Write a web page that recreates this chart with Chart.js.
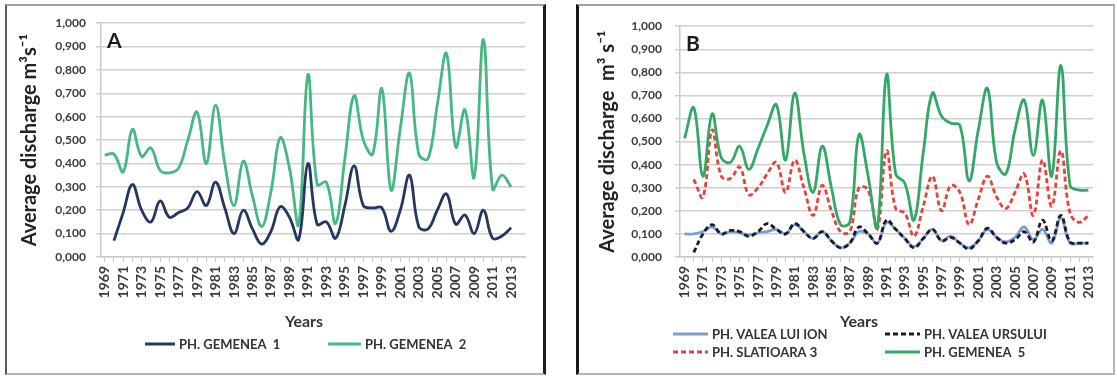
<!DOCTYPE html>
<html>
<head>
<meta charset="utf-8">
<script src="https://cdn.jsdelivr.net/npm/chart.js@4.4.1/dist/chart.umd.min.js"></script>
<style>
  html, body { margin: 0; padding: 0; background: #fff; width: 1117px; height: 376px; overflow: hidden; }
  .panel { position: absolute; box-sizing: border-box; background: #fff; }
  #panelA { left: 5px; top: 4px; width: 541px; height: 371px;
    border-left: 2px solid #5a5a5a; border-top: 2px solid #a0a0a0; border-right: 3px solid #1e1e1e; border-bottom: 2px solid #b4b4b4; }
  #panelB { left: 576px; top: 4px; width: 539px; height: 371px;
    border-left: 3px solid #161616; border-top: 2px solid #a0a0a0; border-right: 2px solid #b4b4b4; border-bottom: 2px solid #b4b4b4; }
  canvas { position: absolute; left: 0; top: 0; }
</style>
</head>
<body>
<div class="panel" id="panelA"><canvas id="chartA" width="536" height="367"></canvas></div>
<div class="panel" id="panelB"><canvas id="chartB" width="534" height="367"></canvas></div>
<script>
// Hydrological years
const years = [1969, 1970, 1971, 1972, 1973, 1974, 1975, 1976, 1977, 1978,
  1979, 1980, 1981, 1982, 1983, 1984, 1985, 1986, 1987, 1988,
  1989, 1990, 1991, 1992, 1993, 1994, 1995, 1996, 1997, 1998,
  1999, 2000, 2001, 2002, 2003, 2004, 2005, 2006, 2007, 2008,
  2009, 2010, 2011, 2012, 2013];

// Panel A – average discharge (m3/s)
const gemenea1 = [null, 0.07, 0.19, 0.31, 0.20, 0.15, 0.24, 0.17, 0.19, 0.21,
  0.28, 0.22, 0.32, 0.21, 0.10, 0.20, 0.12, 0.055, 0.11, 0.215,
  0.17, 0.075, 0.40, 0.14, 0.15, 0.08, 0.22, 0.39, 0.22, 0.21,
  0.21, 0.11, 0.20, 0.35, 0.13, 0.12, 0.20, 0.27, 0.14, 0.18,
  0.10, 0.20, 0.08, 0.09, 0.125];
const gemenea2 = [0.436, 0.44, 0.364, 0.546, 0.43, 0.467, 0.37, 0.36, 0.38, 0.50,
  0.62, 0.40, 0.65, 0.40, 0.22, 0.41, 0.26, 0.13, 0.28, 0.51,
  0.38, 0.14, 0.78, 0.31, 0.32, 0.143, 0.42, 0.69, 0.50, 0.44,
  0.72, 0.286, 0.55, 0.786, 0.44, 0.42, 0.65, 0.87, 0.47, 0.63,
  0.34, 0.93, 0.29, 0.35, 0.30];

// Panel B – average discharge (m3/s)
const valeaLuiIon = [0.10, 0.10, 0.11, 0.13, 0.10, 0.11, 0.105, 0.095, 0.105, 0.11,
  0.12, 0.10, 0.14, 0.11, 0.08, 0.11, 0.07, 0.04, 0.06, 0.11,
  0.10, 0.06, 0.15, 0.12, 0.08, 0.045, 0.08, 0.12, 0.07, 0.09,
  0.06, 0.04, 0.07, 0.12, 0.085, 0.065, 0.085, 0.13, 0.075, 0.12,
  0.06, 0.17, 0.06, 0.06, 0.06];
const valeaUrsului = [null, 0.02, 0.10, 0.14, 0.10, 0.115, 0.11, 0.09, 0.11, 0.145,
  0.12, 0.10, 0.145, 0.11, 0.08, 0.11, 0.07, 0.04, 0.06, 0.13,
  0.10, 0.06, 0.16, 0.12, 0.08, 0.04, 0.08, 0.12, 0.07, 0.085,
  0.06, 0.035, 0.07, 0.125, 0.085, 0.06, 0.075, 0.11, 0.065, 0.16,
  0.07, 0.18, 0.065, 0.06, 0.06];
const slatioara3 = [null, 0.336, 0.26, 0.55, 0.35, 0.34, 0.39, 0.27, 0.30, 0.36,
  0.41, 0.28, 0.42, 0.30, 0.18, 0.31, 0.20, 0.11, 0.11, 0.30,
  0.29, 0.12, 0.46, 0.21, 0.19, 0.09, 0.22, 0.35, 0.20, 0.31,
  0.28, 0.14, 0.25, 0.35, 0.26, 0.21, 0.28, 0.36, 0.18, 0.42,
  0.22, 0.46, 0.19, 0.15, 0.18];
const gemenea5 = [0.514, 0.646, 0.35, 0.62, 0.43, 0.41, 0.48, 0.38, 0.47, 0.57,
  0.66, 0.42, 0.71, 0.45, 0.28, 0.48, 0.30, 0.14, 0.15, 0.53,
  0.35, 0.13, 0.79, 0.36, 0.32, 0.16, 0.45, 0.71, 0.61, 0.58,
  0.57, 0.33, 0.55, 0.73, 0.41, 0.36, 0.55, 0.68, 0.44, 0.68,
  0.35, 0.83, 0.31, 0.29, 0.29];

// Axis ticks
const yTickValues = [0, 0.1, 0.2, 0.3, 0.4, 0.5, 0.6, 0.7, 0.8, 0.9, 1.0];

const FONT = 'Lato, "Open Sans", "DejaVu Sans", sans-serif';
const TEXT = '#333333';

const pts = (vals) => years.map((yr, i) => ({ x: yr, y: vals[i] }));

// Panel letter, x-axis caption and legend drawn on the canvas
const extrasPlugin = {
  id: 'extras',
  afterDraw(chart, args, o) {
    const ctx = chart.ctx, ca = chart.chartArea;
    ctx.save();
    ctx.fillStyle = '#1a1a1a';
    ctx.font = `bold 21px ${FONT}`;
    ctx.textAlign = 'left'; ctx.textBaseline = 'top';
    ctx.fillText(o.letter, ca.left + 6, ca.top + 8);

    ctx.fillStyle = TEXT;
    ctx.font = `bold 16px ${FONT}`;
    ctx.textAlign = 'center'; ctx.textBaseline = 'middle';
    ctx.fillText('Years', o.yearsX, o.yearsY);

    ctx.font = `bold 13px ${FONT}`;
    ctx.textAlign = 'left';
    for (const it of o.legend) {
      ctx.beginPath();
      ctx.strokeStyle = it.color; ctx.lineWidth = 3;
      ctx.setLineDash(it.dash || []);
      ctx.moveTo(it.x1, it.y); ctx.lineTo(it.x2, it.y);
      ctx.stroke();
      ctx.setLineDash([]);
      ctx.fillStyle = TEXT;
      ctx.fillText(it.label, it.x2 + 4, it.y + 1);
    }
    ctx.restore();
  }
};

function makeChart(id, cfg) {
  return new Chart(document.getElementById(id), {
    type: 'line',
    data: { datasets: cfg.datasets },
    options: {
      responsive: false,
      animation: false,
      devicePixelRatio: 1,
      layout: { padding: { left: 0, right: cfg.padRight, top: 17, bottom: 0 } },
      elements: { point: { radius: 0 }, line: { tension: 0.4, borderWidth: 2.8, fill: false } },
      plugins: { legend: { display: false }, tooltip: { enabled: false }, extras: cfg.extras },
      scales: {
        x: {
          type: 'linear', min: cfg.xMin, max: cfg.xMax,
          afterBuildTicks: (s) => { s.ticks = years.map(v => ({ value: v })); },
          afterFit: (s) => { s.height = 116; },
          ticks: {
            autoSkip: false, minRotation: 90, maxRotation: 90, padding: 4,
            color: '#3c3c3c', font: { family: FONT, size: 14, weight: 'bold' },
            callback: (v) => ((v - years[0]) % 2 === 0 ? String(v) : '')
          },
          grid: { drawOnChartArea: false, drawTicks: true, tickLength: 5, color: '#c8c8c8', lineWidth: 1 },
          border: { display: true, color: '#c8c8c8', width: 1.5 }
        },
        y: {
          min: 0, max: 1,
          afterBuildTicks: (s) => { s.ticks = yTickValues.map(v => ({ value: v })); },
          afterFit: (s) => { s.width = cfg.yWidth; },
          ticks: {
            padding: cfg.yPad, color: '#3c3c3c', font: { family: FONT, size: 12, weight: 'bold' },
            callback: (v) => v.toFixed(3).replace('.', ',')
          },
          grid: { color: '#cfcfcf', lineWidth: 1.5, tickLength: 5, drawTicks: true },
          border: { display: true, color: '#c8c8c8', width: 1.5 },
          title: {
            display: true, text: cfg.yTitle, color: '#222222',
            font: { family: FONT, size: 20, weight: 'bold' },
            padding: { top: cfg.yTitlePad, bottom: 0 }
          }
        }
      }
    },
    plugins: [extrasPlugin]
  });
}

// Panel A
makeChart('chartA', {
  xMin: 1968.6, xMax: 2014.5, padRight: 18, yWidth: 94, yPad: 10, yTitlePad: 11,
  yTitle: 'Average discharge m³s⁻¹',
  datasets: [
    { label: 'PH. GEMENEA  1', data: pts(gemenea1), borderColor: '#25365f', order: 1 },
    { label: 'PH. GEMENEA  2', data: pts(gemenea2), borderColor: '#45b883', order: 2 }
  ],
  extras: {
    letter: 'A', yearsX: 297, yearsY: 316,
    legend: [
      { label: 'PH. GEMENEA  1', color: '#25365f', x1: 138, x2: 168, y: 338 },
      { label: 'PH. GEMENEA  2', color: '#45b883', x1: 321, x2: 354, y: 338 }
    ]
  }
});

// Panel B
makeChart('chartB', {
  xMin: 1968.5, xMax: 2013.5, padRight: 20, yWidth: 101, yPad: 13, yTitlePad: 17,
  yTitle: 'Average discharge  m³ s⁻¹',
  datasets: [
    { label: 'PH. VALEA LUI ION', data: pts(valeaLuiIon), borderColor: '#7aa0d0', order: 4 },
    { label: 'PH. VALEA URSULUI', data: pts(valeaUrsului), borderColor: '#1b1b2b', borderDash: [5, 3], order: 3 },
    { label: 'PH. SLATIOARA 3', data: pts(slatioara3), borderColor: '#e8413c', borderDash: [5, 3], order: 2 },
    { label: 'PH. GEMENEA  5', data: pts(gemenea5), borderColor: '#33a866', order: 1 }
  ],
  extras: {
    letter: 'B', yearsX: 280, yearsY: 316,
    legend: [
      { label: 'PH. VALEA LUI ION', color: '#7aa0d0', x1: 94, x2: 129, y: 328 },
      { label: 'PH. VALEA URSULUI', color: '#1b1b2b', dash: [5, 3], x1: 306, x2: 341, y: 328 },
      { label: 'PH. SLATIOARA 3', color: '#e8413c', dash: [5, 3], x1: 94, x2: 129, y: 346 },
      { label: 'PH. GEMENEA  5', color: '#33a866', x1: 306, x2: 341, y: 346 }
    ]
  }
});
</script>
</body>
</html>
